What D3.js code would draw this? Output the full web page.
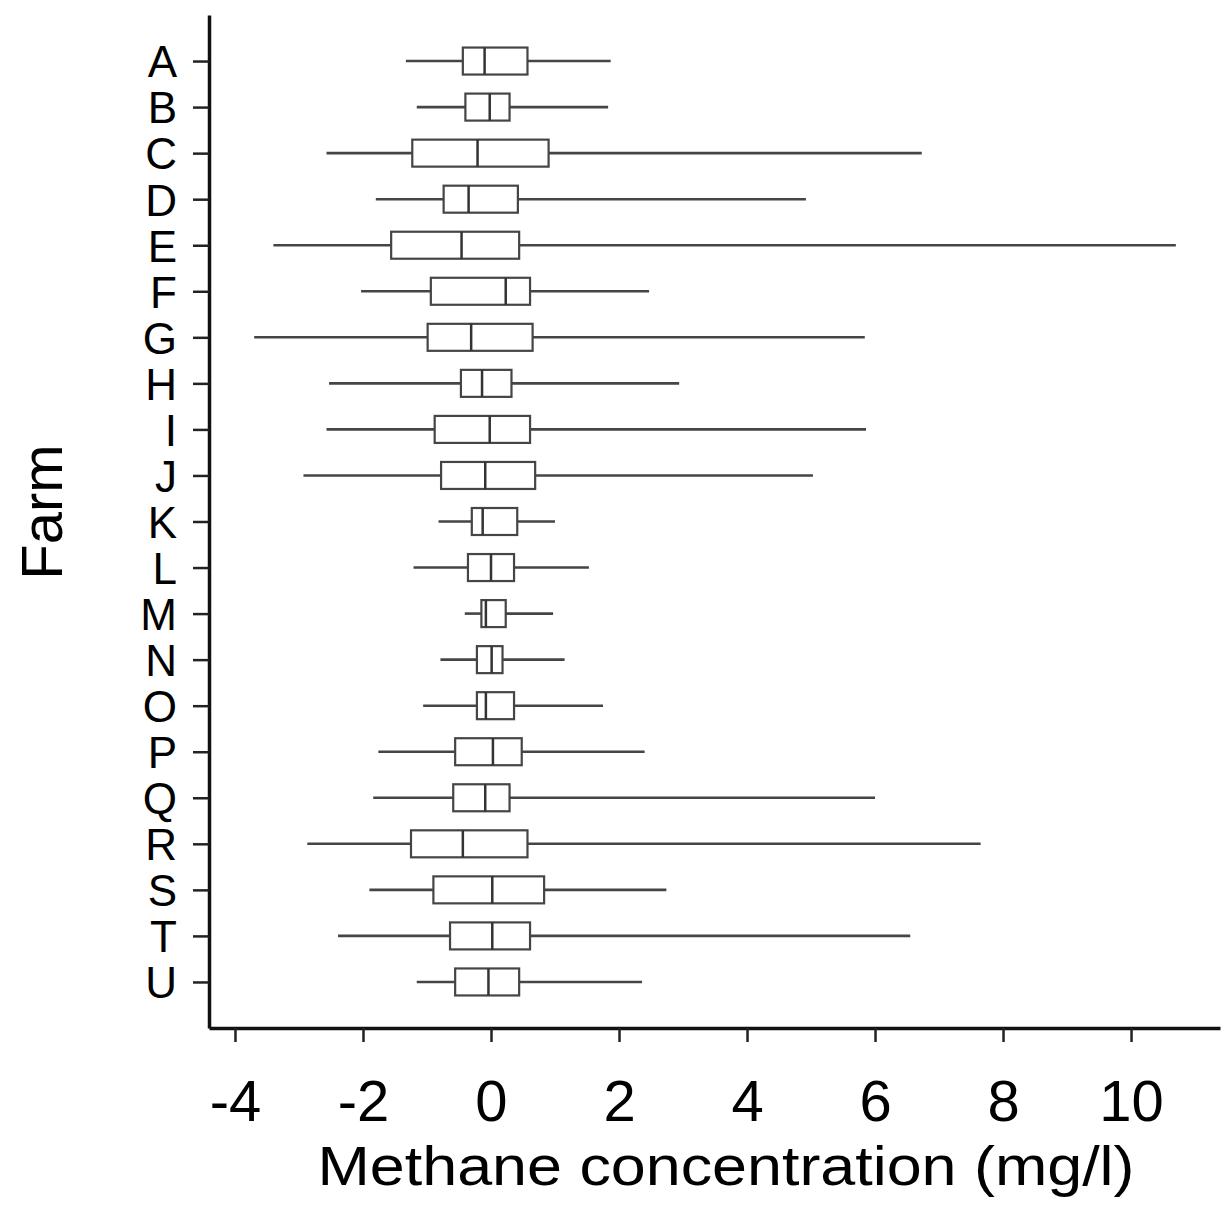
<!DOCTYPE html>
<html lang="en">
<head>
  <meta charset="UTF-8">
  <title>Methane concentration by farm</title>
  <style>
    body, html {
      margin: 0;
      padding: 0;
      background: #fff;
    }
    svg text {
      font-family: "Liberation Sans", Arial, sans-serif;
      fill: #000;
    }
  </style>
</head>
<body>
  <svg id="svg" width="1223" height="1213"></svg>

  <script src="https://cdn.jsdelivr.net/npm/d3@7"></script>
  <script>
    // values (mg/l)
    const farms = ['A','B','C','D','E','F','G','H','I','J','K','L','M','N','O','P','Q','R','S','T','U'];
    const whiskerLow  = [-1.33, -1.16, -2.57, -1.80, -3.40, -2.03, -3.70, -2.53, -2.57, -2.93, -0.82, -1.21, -0.41, -0.79, -1.06, -1.76, -1.84, -2.87, -1.90, -2.39, -1.16];
    const q1          = [-0.44, -0.40, -1.23, -0.74, -1.56, -0.94, -0.99, -0.47, -0.88, -0.78, -0.30, -0.36, -0.15, -0.22, -0.22, -0.56, -0.59, -1.25, -0.90, -0.64, -0.56];
    const median      = [-0.10, -0.02, -0.21, -0.35, -0.46,  0.23, -0.31, -0.14, -0.02, -0.09, -0.13,  0.00, -0.08,  0.01, -0.08,  0.03, -0.09, -0.44,  0.02,  0.02, -0.04];
    const q3          = [ 0.57,  0.29,  0.90,  0.42,  0.44,  0.61,  0.65,  0.32,  0.61,  0.69,  0.41,  0.36,  0.23,  0.18,  0.36,  0.48,  0.29,  0.57,  0.83,  0.61,  0.44];
    const whiskerHigh = [ 1.87,  1.83,  6.73,  4.92, 10.70,  2.47,  5.84,  2.94,  5.86,  5.03,  1.00,  1.53,  0.97,  1.15,  1.75,  2.40,  6.00,  7.65,  2.74,  6.55,  2.36];
    const xTicks = [-4, -2, 0, 2, 4, 6, 8, 10];

    const data = farms.map((f, i) => ({
      farm: f,
      lo: whiskerLow[i], q1: q1[i], med: median[i], q3: q3[i], hi: whiskerHigh[i]
    }));

    const svg = d3.select('#svg');
    const boxH = 27;
    const lineColor = '#454545';

    const xScale = d3.scaleLinear()
      .domain([-4.406, 11.39])
      .range([209, 1220]);

    const yScale = d3.scalePoint()
      .domain(farms)
      .range([15, 1028])
      .padding(1);

    // boxes
    const g = svg.append('g');
    const rows = g.selectAll('.row')
      .data(data)
      .enter()
      .append('g')
      .attr('class', 'row');

    rows.append('line')
      .attr('x1', d => xScale(d.lo))
      .attr('x2', d => xScale(d.q1))
      .attr('y1', d => yScale(d.farm))
      .attr('y2', d => yScale(d.farm))
      .attr('stroke', lineColor)
      .attr('stroke-width', 2.6);

    rows.append('line')
      .attr('x1', d => xScale(d.q3))
      .attr('x2', d => xScale(d.hi))
      .attr('y1', d => yScale(d.farm))
      .attr('y2', d => yScale(d.farm))
      .attr('stroke', lineColor)
      .attr('stroke-width', 2.6);

    rows.append('rect')
      .attr('x', d => xScale(d.q1))
      .attr('y', d => yScale(d.farm) - boxH / 2)
      .attr('width', d => xScale(d.q3) - xScale(d.q1))
      .attr('height', boxH)
      .attr('fill', '#fff')
      .attr('stroke', lineColor)
      .attr('stroke-width', 2.2);

    rows.append('line')
      .attr('x1', d => xScale(d.med))
      .attr('x2', d => xScale(d.med))
      .attr('y1', d => yScale(d.farm) - boxH / 2)
      .attr('y2', d => yScale(d.farm) + boxH / 2)
      .attr('stroke', '#333')
      .attr('stroke-width', 2.5);

    // axes
    const xAxis = svg.append('g')
      .attr('transform', 'translate(0,1028)')
      .call(d3.axisBottom(xScale)
        .tickValues(xTicks)
        .tickFormat(d => String(d))
        .tickSize(14)
        .tickSizeOuter(0)
        .tickPadding(38));
    xAxis.select('.domain').attr('stroke', '#111').attr('stroke-width', 3.5);
    xAxis.selectAll('.tick line').attr('stroke', '#222').attr('stroke-width', 2.5);
    xAxis.selectAll('.tick text')
      .attr('font-size', 58)
      .attr('font-family', '"Liberation Sans", Arial, sans-serif')
      .attr('fill', '#000')
      .attr('dy', '0.71em');

    const yAxis = svg.append('g')
      .attr('transform', 'translate(209,0)')
      .call(d3.axisLeft(yScale).tickSize(16).tickSizeOuter(0).tickPadding(16));
    yAxis.select('.domain').attr('stroke', '#111').attr('stroke-width', 3.5);
    yAxis.selectAll('.tick line').attr('stroke', '#222').attr('stroke-width', 2.5);
    yAxis.selectAll('.tick text')
      .attr('font-size', 44)
      .attr('font-family', '"Liberation Sans", Arial, sans-serif')
      .attr('fill', '#000')
      .attr('dy', '0.36em');

    // axis titles
    svg.append('text')
      .attr('x', 726)
      .attr('y', 1185)
      .attr('text-anchor', 'middle')
      .attr('font-size', 56)
      .attr('textLength', 817)
      .attr('lengthAdjust', 'spacingAndGlyphs')
      .text('Methane concentration (mg/l)');

    svg.append('text')
      .attr('transform', 'translate(62,512) rotate(-90)')
      .attr('text-anchor', 'middle')
      .attr('font-size', 58)
      .text('Farm');
  </script>
</body>
</html>
